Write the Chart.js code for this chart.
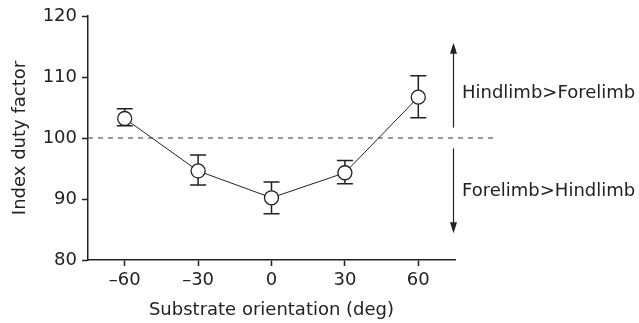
<!DOCTYPE html>
<html>
<head>
<meta charset="utf-8">
<script src="https://cdn.jsdelivr.net/npm/chart.js@4/dist/chart.umd.min.js"></script>
<style>
	html, body { margin: 0; padding: 0; background: #fff; }
	canvas { display: block; }
</style>
</head>
<body>
<canvas id="myChart" width="639" height="323"></canvas>
<script>
// substrate orientation (deg)
const orientations = ["–60", "–30", "0", "30", "60"];
// mean index duty factor, with upper / lower error bar ends
const dutyFactor = [103.2, 94.6, 90.2, 94.3, 106.7];
const errHigh = [104.8, 97.2, 92.8, 96.3, 110.2];
const errLow = [102.0, 92.3, 87.6, 92.5, 103.3];
const yTicks = [80, 90, 100, 110, 120];
const refLevel = 100;

const FONT = "'DejaVu Sans', sans-serif";
const INK = "#222";

// error bars, reference line, arrows and the two notes on the right
const extras = {
	id: "extras",
	beforeDatasetsDraw(chart) {
		const { ctx, chartArea } = chart;
		const x = chart.scales.x;
		const y = chart.scales.y;

		ctx.save();
		// dashed 100 line, runs out past the axis
		ctx.strokeStyle = "#555";
		ctx.lineWidth = 1.2;
		ctx.setLineDash([5, 5]);
		const yRef = y.getPixelForValue(refLevel);
		ctx.beginPath();
		ctx.moveTo(chartArea.left, yRef);
		ctx.lineTo(chartArea.right + 42, yRef);
		ctx.stroke();
		ctx.setLineDash([]);

		// error bars
		ctx.strokeStyle = INK;
		ctx.lineWidth = 1.5;
		dutyFactor.forEach((v, i) => {
			const px = x.getPixelForValue(i);
			const top = y.getPixelForValue(errHigh[i]);
			const bot = y.getPixelForValue(errLow[i]);
			ctx.beginPath();
			ctx.moveTo(px, top);
			ctx.lineTo(px, bot);
			ctx.moveTo(px - 8, top);
			ctx.lineTo(px + 8, top);
			ctx.moveTo(px - 8, bot);
			ctx.lineTo(px + 8, bot);
			ctx.stroke();
		});
		ctx.restore();
	},
	afterDraw(chart) {
		const { ctx, chartArea } = chart;
		const y = chart.scales.y;
		const ax = chartArea.right - 1.5;

		const arrow = (from, to) => {
			const y0 = y.getPixelForValue(from);
			const y1 = y.getPixelForValue(to);
			const dir = y1 < y0 ? 1 : -1;
			ctx.beginPath();
			ctx.moveTo(ax, y0);
			ctx.lineTo(ax, y1 + dir * 10);
			ctx.stroke();
			ctx.beginPath();
			ctx.moveTo(ax, y1);
			ctx.lineTo(ax - 3.5, y1 + dir * 11);
			ctx.lineTo(ax + 3.5, y1 + dir * 11);
			ctx.closePath();
			ctx.fill();
		};

		ctx.save();
		ctx.strokeStyle = INK;
		ctx.fillStyle = INK;
		ctx.lineWidth = 1.2;
		arrow(101.7, 115.6);
		arrow(98.3, 84.4);

		ctx.font = "18px " + FONT;
		ctx.textAlign = "left";
		ctx.textBaseline = "alphabetic";
		ctx.fillText("Hindlimb>Forelimb", chartArea.right + 7, y.getPixelForValue(106.6));
		ctx.fillText("Forelimb>Hindlimb", chartArea.right + 7, y.getPixelForValue(90.5));
		ctx.restore();
	},
};

const ctx = document.getElementById("myChart").getContext("2d");

new Chart(ctx, {
	type: "line",
	data: {
		labels: orientations,
		datasets: [
			{
				data: dutyFactor,
				borderColor: INK,
				borderWidth: 1,
				pointRadius: 7,
				pointHoverRadius: 7,
				pointBackgroundColor: "#fff",
				pointBorderColor: INK,
				pointBorderWidth: 1.3,
				tension: 0,
			},
		],
	},
	options: {
		responsive: false,
		animation: false,
		events: [],
		layout: {
			padding: { top: 16, right: 184, left: 0, bottom: 0 },
		},
		plugins: {
			legend: { display: false },
			tooltip: { enabled: false },
		},
		scales: {
			x: {
				type: "category",
				offset: true,
				grid: {
					offset: false,
					drawOnChartArea: false,
					tickLength: 6,
					tickColor: INK,
					tickWidth: 1.5,
				},
				border: { color: INK, width: 1.5 },
				ticks: {
					color: INK,
					padding: 4,
					maxRotation: 0,
					font: { family: FONT, size: 18 },
				},
				title: {
					display: true,
					text: "Substrate orientation (deg)",
					color: INK,
					padding: { top: 0, bottom: 2 },
					font: { family: FONT, size: 18 },
				},
				afterFit(scale) {
					scale.height = 63;
				},
			},
			y: {
				min: 80,
				max: 120,
				afterBuildTicks(scale) {
					scale.ticks = yTicks.map((v) => ({ value: v }));
				},
				grid: {
					drawOnChartArea: false,
					tickLength: 6,
					tickColor: INK,
					tickWidth: 1.5,
				},
				border: { color: INK, width: 1.5 },
				ticks: {
					color: INK,
					padding: 5,
					font: { family: FONT, size: 18 },
				},
				title: {
					display: true,
					text: "Index duty factor",
					color: INK,
					padding: { top: 10, bottom: 0 },
					font: { family: FONT, size: 18 },
				},
				afterFit(scale) {
					scale.width = 88;
				},
			},
		},
	},
	plugins: [extras],
});
</script>
</body>
</html>
